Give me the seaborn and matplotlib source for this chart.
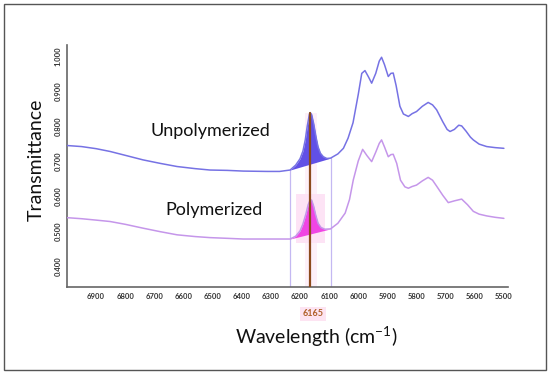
import numpy as np
import pandas as pd
import matplotlib.pyplot as plt
import seaborn as sns
from matplotlib.patches import Rectangle

# wavenumber grid (cm-1) and transmittance
wn_unpoly = [7000, 6950, 6900, 6852, 6800, 6739, 6680, 6622, 6560, 6509, 6450, 6395,
             6313, 6270, 6234, 6215, 6200, 6190, 6182, 6175, 6168, 6165, 6160, 6153,
             6145, 6138, 6130, 6120, 6108, 6095, 6070, 6051, 6035, 6018, 6000, 5988, 5977,
             5965, 5954, 5940, 5928, 5920, 5910, 5897, 5888, 5880, 5870, 5857, 5845,
             5828, 5815, 5800, 5780, 5760, 5745, 5731, 5710, 5695, 5685, 5670, 5655,
             5645, 5630, 5615, 5605, 5585, 5559, 5530, 5500]
t_unpoly = [0.744, 0.741, 0.735, 0.727, 0.716, 0.703, 0.693, 0.684, 0.678, 0.674, 0.673, 0.671,
            0.670, 0.670, 0.674, 0.688, 0.706, 0.728, 0.760, 0.800, 0.832, 0.838, 0.832, 0.806,
            0.768, 0.740, 0.722, 0.712, 0.707, 0.708, 0.720, 0.736, 0.765, 0.809, 0.890, 0.950, 0.958,
            0.940, 0.922, 0.950, 0.985, 0.996, 0.975, 0.941, 0.950, 0.951, 0.915, 0.856, 0.834,
            0.827, 0.835, 0.841, 0.856, 0.867, 0.860, 0.846, 0.812, 0.790, 0.784, 0.790, 0.802,
            0.800, 0.785, 0.768, 0.760, 0.748, 0.741, 0.738, 0.736]

wn_poly = [7000, 6950, 6900, 6852, 6800, 6739, 6680, 6622, 6560, 6509, 6450, 6395,
           6313, 6234, 6215, 6200, 6190, 6180, 6172, 6165, 6160, 6153, 6146, 6138,
           6128, 6115, 6095, 6070, 6045, 6030, 6017, 6000, 5985, 5970,
           5954, 5940, 5928, 5920, 5910, 5897, 5888, 5880, 5868, 5855, 5840, 5828,
           5815, 5800, 5780, 5760, 5745, 5731, 5710, 5691, 5670, 5645, 5625, 5605,
           5585, 5559, 5530, 5500]
t_poly = [0.538, 0.535, 0.531, 0.527, 0.519, 0.508, 0.498, 0.489, 0.484, 0.481, 0.479, 0.477,
          0.477, 0.477, 0.485, 0.500, 0.520, 0.548, 0.575, 0.589, 0.588, 0.570, 0.545, 0.522,
          0.510, 0.505, 0.506, 0.522, 0.551, 0.590, 0.646, 0.700, 0.733, 0.715,
          0.698, 0.725, 0.750, 0.760, 0.740, 0.712, 0.718, 0.719, 0.693, 0.645, 0.626, 0.622,
          0.627, 0.631, 0.643, 0.653, 0.645, 0.628, 0.602, 0.581, 0.586, 0.591, 0.575, 0.556,
          0.548, 0.543, 0.539, 0.536]

peak_pos = 6165
band_edges = [6234, 6095]
x_ticks = list(range(6900, 5400, -100))
y_ticks = [0.4, 0.5, 0.6, 0.7, 0.8, 0.9, 1.0]

sns.set_theme(style="white")
plt.rcParams['font.family'] = ['Lato', 'DejaVu Sans']
plt.rcParams['mathtext.fontset'] = 'custom'
plt.rcParams['mathtext.rm'] = 'Lato'

df = pd.concat([
    pd.DataFrame({'wn': wn_unpoly, 't': t_unpoly, 'sample': 'Unpolymerized'}),
    pd.DataFrame({'wn': wn_poly, 't': t_poly, 'sample': 'Polymerized'}),
])

fig = plt.figure(figsize=(5.5, 3.76), dpi=100)
ax = fig.add_axes([0.1218, 0.2367, 0.8018, 0.6436])

ylo = 0.34
peak_top = t_unpoly[wn_unpoly.index(peak_pos)]

# pink highlight around the marker line
ax.fill_between([6183, 6143], ylo, peak_top, color='#fdf0f9', zorder=0, lw=0)
ax.add_patch(Rectangle((6215, 0.465), -100, 0.14, color='#fde3f5', zorder=0, lw=0))

sns.lineplot(data=df, x='wn', y='t', hue='sample', palette={'Unpolymerized': '#7672e4',
             'Polymerized': '#c596ea'}, lw=1.1, legend=False, ax=ax, sort=False, zorder=3)

# filled peaks between the two band edges
for wn, tt, col in [(wn_unpoly, t_unpoly, '#6150e6'), (wn_poly, t_poly, '#f046e4')]:
    wn = np.array(wn)
    tt = np.array(tt)
    m = (wn <= band_edges[0]) & (wn >= band_edges[1])
    base = np.interp(wn[m], band_edges[::-1], [tt[wn == band_edges[1]][0], tt[wn == band_edges[0]][0]])
    ax.fill_between(wn[m], base, tt[m], color=col, lw=0, zorder=2)

# thin band-edge lines
for e in band_edges:
    top = t_unpoly[wn_unpoly.index(e)]
    ax.plot([e, e], [ylo, top], color='#c4b8f2', lw=0.9, zorder=1)

ax.plot([peak_pos, peak_pos], [ylo, peak_top], color='#8c4a1c', lw=1.6, zorder=4)

ax.set_xlim(7000, 5486)
ax.set_ylim(ylo, 1.031)
ax.set_xticks(x_ticks)
ax.set_xticklabels([str(v) for v in x_ticks])
ax.set_yticks(y_ticks)
ax.set_yticklabels([f'{v:.3f}' for v in y_ticks], rotation=90, va='center')
ax.tick_params(axis='both', labelsize=5.5, colors='#333333', length=2, width=0.6, pad=2)
for lab in ax.get_xticklabels() + ax.get_yticklabels():
    lab.set_fontweight('bold')
for s in ['top', 'right']:
    ax.spines[s].set_visible(False)
for s in ['left', 'bottom']:
    ax.spines[s].set_color('#666666')
    ax.spines[s].set_linewidth(1.2)
ax.set_xlabel('')
ax.set_ylabel('')

ax.text(6509, 0.786, 'Unpolymerized', fontsize=13, ha='center', va='center', color='#111111')
ax.text(6497, 0.560, 'Polymerized', fontsize=13, ha='center', va='center', color='#111111')

fig.text(36 / 550, 1 - 160 / 376, 'Transmittance', rotation=90, fontsize=14,
         ha='center', va='center', color='#111111')
fig.text(316 / 550, 1 - 337 / 376, 'Wavelength (cm$^{-1}$)', fontsize=14,
         ha='center', va='center', color='#111111')
fig.text(313 / 550, 1 - 314 / 376, str(peak_pos), fontsize=6.5, fontweight='bold',
         ha='center', va='center', color='#b0612a',
         bbox=dict(boxstyle='square,pad=0.25', fc='#fde4f2', ec='none'))

fig.patches.append(Rectangle((4 / 550, 6 / 376), 542 / 550, 366 / 376, transform=fig.transFigure,
                             fill=False, ec='#555555', lw=1.0))

fig.savefig('out.png', dpi=100)
